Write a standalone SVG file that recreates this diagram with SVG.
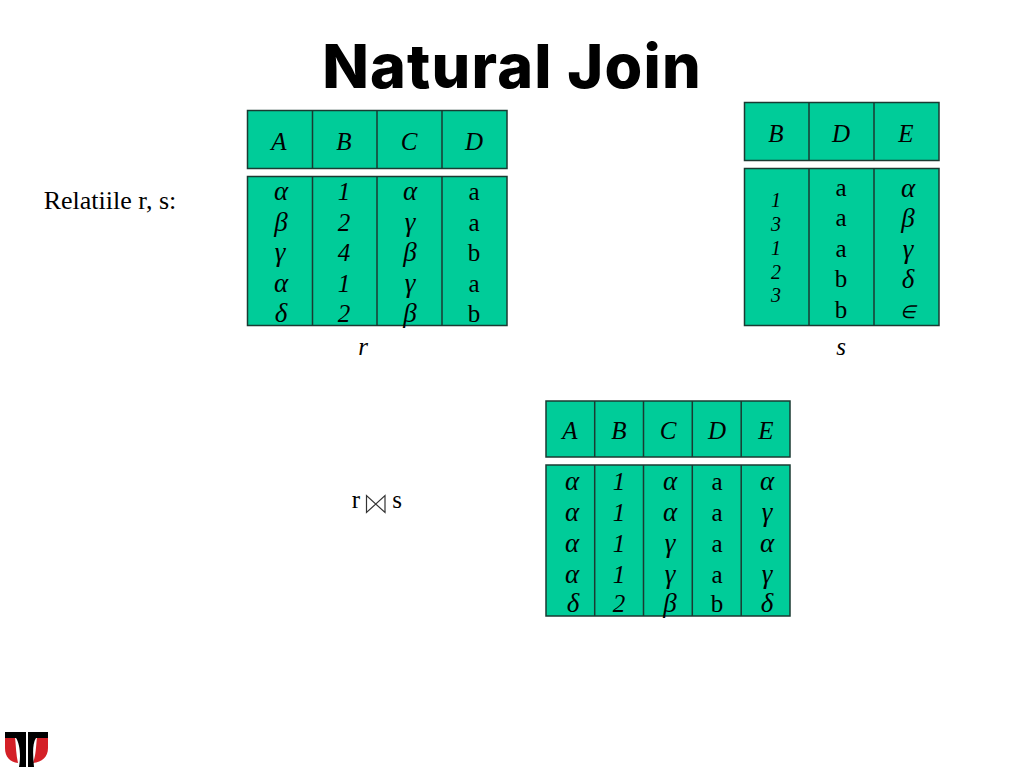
<svg xmlns="http://www.w3.org/2000/svg" width="1024" height="768" viewBox="0 0 1024 768">
<style>
.c{fill:#00cc99;stroke:#1a3a32;stroke-width:1.5}
.l{stroke:#1a3a32;stroke-width:1.5;fill:none}
text{font-family:"Liberation Serif","Times New Roman",serif;fill:#000;text-anchor:middle}
.i{font-style:italic;font-size:25px}
.g{font-style:italic;font-size:27px}
.n{font-size:25px}
.s{font-style:italic;font-size:20px}
.e{font-style:italic;font-size:18px}
</style>
<rect width="1024" height="768" fill="#fff"/>
<text x="512" y="87.5" style="font-family:Inter,Tahoma,sans-serif;font-weight:800;font-size:61px;letter-spacing:1.2px">Natural Join</text>
<text x="110" y="209" style="font-size:26px">Relatiile r, s:</text>

<g id="table-r-header">
<rect class="c" x="247.5" y="110.5" width="259.5" height="58"/>
<path class="l" d="M312.5 110.5V168.5M377 110.5V168.5M442 110.5V168.5"/>
<text class="i" x="279" y="150">A</text><text class="i" x="344" y="150">B</text><text class="i" x="409" y="150">C</text><text class="i" x="474" y="150">D</text>
</g>
<g id="table-r-body">
<rect class="c" x="247.5" y="176.5" width="259.5" height="149"/>
<path class="l" d="M312.5 176.5V325.5M377 176.5V325.5M442 176.5V325.5"/>
<text class="g" x="281" y="200">α</text><text class="g" x="281" y="231">β</text><text class="g" x="280" y="261">γ</text><text class="g" x="281" y="292">α</text><text class="g" x="281" y="322">δ</text>
<text class="i" x="344" y="200">1</text><text class="i" x="344" y="231">2</text><text class="i" x="344" y="261">4</text><text class="i" x="344" y="292">1</text><text class="i" x="344" y="322">2</text>
<text class="g" x="410" y="200">α</text><text class="g" x="410" y="231">γ</text><text class="g" x="410" y="261">β</text><text class="g" x="410" y="292">γ</text><text class="g" x="410" y="322">β</text>
<text class="n" x="474" y="200">a</text><text class="n" x="474" y="231">a</text><text class="n" x="474" y="261">b</text><text class="n" x="474" y="292">a</text><text class="n" x="474" y="322">b</text>
</g>
<text id="label-r" class="i" x="363" y="355">r</text>

<g id="table-s-header">
<rect class="c" x="744.5" y="102.5" width="194.5" height="58"/>
<path class="l" d="M809 102.5V160.5M874 102.5V160.5"/>
<text class="i" x="776" y="142">B</text><text class="i" x="841" y="142">D</text><text class="i" x="906" y="142">E</text>
</g>
<g id="table-s-body">
<rect class="c" x="744.5" y="168.5" width="194.5" height="157"/>
<path class="l" d="M809 168.5V325.5M874 168.5V325.5"/>
<text class="s" x="776" y="207">1</text><text class="s" x="776" y="231">3</text><text class="s" x="776" y="255">1</text><text class="s" x="776" y="279">2</text><text class="s" x="776" y="302">3</text>
<text class="n" x="841" y="196">a</text><text class="n" x="841" y="226">a</text><text class="n" x="841" y="257">a</text><text class="n" x="841" y="287">b</text><text class="n" x="841" y="318">b</text>
<text class="g" x="908" y="197">α</text><text class="g" x="908" y="227">β</text><text class="g" x="908" y="258">γ</text><text class="g" x="908" y="288">δ</text><text class="e" x="908" y="318">∈</text>
</g>
<text id="label-s" class="i" x="841" y="355">s</text>

<g id="join-label">
<text class="n" x="356" y="508">r</text>
<path d="M366.5 495.5V512.5L385 495.5V512.5Z" fill="none" stroke="#333" stroke-width="1.2"/>
<text class="n" x="397" y="508">s</text>
</g>

<g id="table-join-header">
<rect class="c" x="546" y="401" width="244" height="56"/>
<path class="l" d="M594.7 401V457M643.5 401V457M692.3 401V457M741.2 401V457"/>
<text class="i" x="570" y="439">A</text><text class="i" x="619" y="439">B</text><text class="i" x="668" y="439">C</text><text class="i" x="717" y="439">D</text><text class="i" x="766" y="439">E</text>
</g>
<g id="table-join-body">
<rect class="c" x="546" y="465" width="244" height="151"/>
<path class="l" d="M594.7 465V616M643.5 465V616M692.3 465V616M741.2 465V616"/>
<text class="g" x="572" y="490">α</text><text class="g" x="572" y="521">α</text><text class="g" x="572" y="552">α</text><text class="g" x="572" y="583">α</text><text class="g" x="573" y="612">δ</text>
<text class="i" x="619" y="490">1</text><text class="i" x="619" y="521">1</text><text class="i" x="619" y="552">1</text><text class="i" x="619" y="583">1</text><text class="i" x="619" y="612">2</text>
<text class="g" x="670" y="490">α</text><text class="g" x="670" y="521">α</text><text class="g" x="670" y="552">γ</text><text class="g" x="670" y="583">γ</text><text class="g" x="670" y="612">β</text>
<text class="n" x="717" y="490">a</text><text class="n" x="717" y="521">a</text><text class="n" x="717" y="552">a</text><text class="n" x="717" y="583">a</text><text class="n" x="717" y="612">b</text>
<text class="g" x="767" y="490">α</text><text class="g" x="767" y="521">γ</text><text class="g" x="767" y="552">α</text><text class="g" x="767" y="583">γ</text><text class="g" x="767" y="612">δ</text>
</g>

<g id="logo">
<path d="M5 737H15C16 746 16 755 18 763C10 762 5 757 5 748Z" fill="#d42027"/>
<path d="M48 737H37C36 746 36 755 33 763C42 762 48 757 48 748Z" fill="#d42027"/>
<path d="M5 732H26V767H19C21 756 20 744 16 738H5Z" fill="#000"/>
<path d="M48 732H28V767H34C33 756 32 744 36 738H48Z" fill="#000"/>
</g>
</svg>
